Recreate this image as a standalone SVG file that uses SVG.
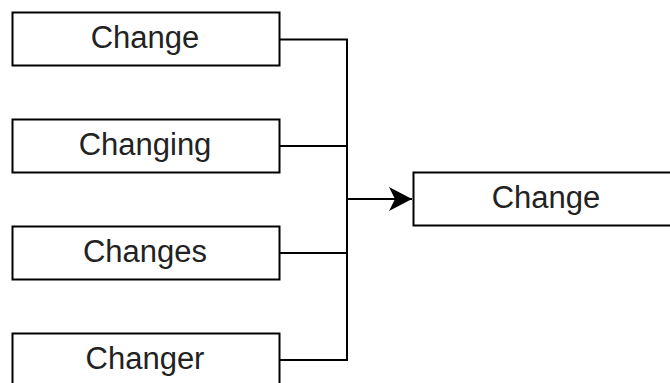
<svg xmlns="http://www.w3.org/2000/svg" width="670" height="383" viewBox="0 0 670 383">
  <defs>
    <style>
      .box { fill: #ffffff; stroke: #000000; stroke-width: 2; }
      .label { font-family: "Liberation Sans", Arial, sans-serif; font-size: 31px; fill: #222222; text-anchor: middle; }
      .wire { fill: none; stroke: #000000; stroke-width: 2; }
    </style>
    <marker id="arrow" viewBox="0 0 24 24" markerWidth="24" markerHeight="24" refX="23" refY="12" orient="auto" markerUnits="userSpaceOnUse">
      <path d="M0,0 L23,12 L0,24 L6,12 Z" fill="#000000"/>
    </marker>
  </defs>
  <rect width="670" height="383" fill="#ffffff"/>

  <g id="connectors">
    <path class="wire" d="M280,39.5 H347 V360 H280"/>
    <path class="wire" d="M280,146 H347"/>
    <path class="wire" d="M280,253 H347"/>
    <path class="wire" d="M347,199 H412" marker-end="url(#arrow)"/>
  </g>

  <g id="node-change">
    <rect class="box" x="12.5" y="12.5" width="267" height="53"/>
    <text class="label" x="145" y="48">Change</text>
  </g>
  <g id="node-changing">
    <rect class="box" x="12.5" y="119.5" width="267" height="53"/>
    <text class="label" x="145" y="155">Changing</text>
  </g>
  <g id="node-changes">
    <rect class="box" x="12.5" y="226.5" width="267" height="53"/>
    <text class="label" x="145" y="262">Changes</text>
  </g>
  <g id="node-changer">
    <rect class="box" x="12.5" y="333.5" width="267" height="53"/>
    <text class="label" x="145" y="369">Changer</text>
  </g>
  <g id="node-result">
    <rect class="box" x="413.5" y="172.5" width="267" height="53"/>
    <text class="label" x="546" y="208">Change</text>
  </g>
</svg>
